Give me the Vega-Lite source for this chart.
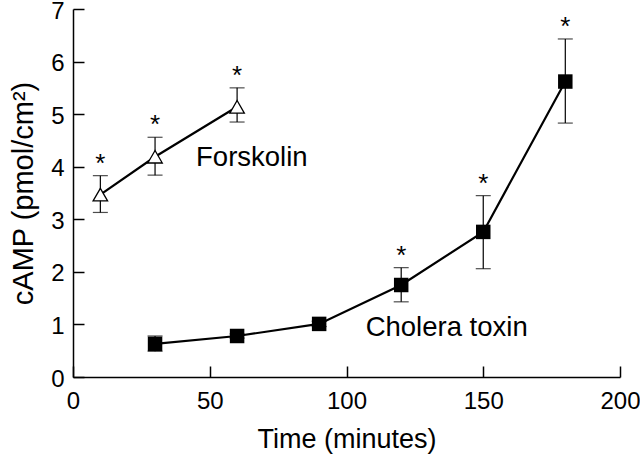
{
  "$schema": "https://vega.github.io/schema/vega-lite/v6.json",
  "width": 547,
  "height": 368,
  "autosize": "none",
  "padding": {"left": 73, "top": 9, "right": 20, "bottom": 78},
  "background": "white",
  "config": {
    "view": {"stroke": null},
    "font": "Liberation Sans",
    "axis": {
      "grid": false,
      "domainColor": "black",
      "domainWidth": 1.5,
      "tickColor": "black",
      "tickWidth": 1.5,
      "tickSize": -11,
      "labelFont": "Liberation Sans",
      "labelFontSize": 24,
      "labelColor": "black",
      "labelFlush": false,
      "labelOverlap": false,
      "labelBound": false,
      "titleFont": "Liberation Sans",
      "titleFontWeight": "normal",
      "titleColor": "black"
    }
  },
  "datasets": {
    "pts": [
      {"series": "Forskolin", "time": 10, "mean": 3.47, "lower": 3.13, "upper": 3.83, "sig": "*"},
      {"series": "Forskolin", "time": 30, "mean": 4.19, "lower": 3.84, "upper": 4.56, "sig": "*"},
      {"series": "Forskolin", "time": 60, "mean": 5.14, "lower": 4.85, "upper": 5.5, "sig": "*"},
      {"series": "Cholera toxin", "time": 30, "mean": 0.63, "lower": 0.49, "upper": 0.78, "sig": ""},
      {"series": "Cholera toxin", "time": 60, "mean": 0.78, "lower": 0.74, "upper": 0.82, "sig": ""},
      {"series": "Cholera toxin", "time": 90, "mean": 1.01, "lower": 0.96, "upper": 1.06, "sig": ""},
      {"series": "Cholera toxin", "time": 120, "mean": 1.75, "lower": 1.43, "upper": 2.08, "sig": "*"},
      {"series": "Cholera toxin", "time": 150, "mean": 2.76, "lower": 2.06, "upper": 3.45, "sig": "*"},
      {"series": "Cholera toxin", "time": 180, "mean": 5.62, "lower": 4.83, "upper": 6.43, "sig": "*"}
    ],
    "labels": [
      {"label": "Forskolin", "time": 45, "value": 4.02},
      {"label": "Cholera toxin", "time": 107, "value": 0.78}
    ]
  },
  "data": {"name": "pts"},
  "encoding": {
    "x": {
      "field": "time", "type": "quantitative",
      "scale": {"domain": [0, 200], "nice": false, "zero": false},
      "axis": {"values": [0, 50, 100, 150, 200], "title": "Time (minutes)", "titleFontSize": 27, "labelPadding": 23, "titlePadding": 13}
    },
    "y": {
      "field": "mean", "type": "quantitative",
      "scale": {"domain": [0, 7], "nice": false},
      "axis": {"values": [0, 1, 2, 3, 4, 5, 6, 7], "title": "cAMP (pmol/cm²)", "titleFontSize": 29, "labelPadding": 20, "labelOffset": 2, "titlePadding": 12}
    }
  },
  "layer": [
    {
      "mark": {"type": "rule", "color": "black", "strokeWidth": 1.2},
      "encoding": {"y": {"field": "lower", "type": "quantitative"}, "y2": {"field": "upper"}}
    },
    {
      "mark": {"type": "tick", "orient": "horizontal", "color": "black", "size": 15, "thickness": 1.2},
      "encoding": {"y": {"field": "upper", "type": "quantitative"}}
    },
    {
      "mark": {"type": "tick", "orient": "horizontal", "color": "black", "size": 15, "thickness": 1.2},
      "encoding": {"y": {"field": "lower", "type": "quantitative"}}
    },
    {
      "mark": {"type": "line", "color": "black", "strokeWidth": 2.2},
      "encoding": {"detail": {"field": "series"}}
    },
    {
      "transform": [{"filter": "datum.series === 'Cholera toxin'"}],
      "mark": {"type": "point", "shape": "square", "filled": true, "color": "black", "size": 210, "opacity": 1}
    },
    {
      "transform": [{"filter": "datum.series === 'Forskolin'"}],
      "mark": {"type": "point", "shape": "triangle-up", "filled": true, "fill": "white", "stroke": "black", "strokeWidth": 1.3, "size": 210, "opacity": 1}
    },
    {
      "mark": {"type": "text", "fontSize": 26, "color": "black", "baseline": "alphabetic", "align": "center", "dy": -4},
      "encoding": {"y": {"field": "upper", "type": "quantitative"}, "text": {"field": "sig"}}
    },
    {
      "data": {"name": "labels"},
      "mark": {"type": "text", "fontSize": 27.5, "color": "black", "baseline": "alphabetic", "align": "left"},
      "encoding": {
        "x": {"field": "time", "type": "quantitative"},
        "y": {"field": "value", "type": "quantitative"},
        "text": {"field": "label"}
      }
    }
  ]
}
